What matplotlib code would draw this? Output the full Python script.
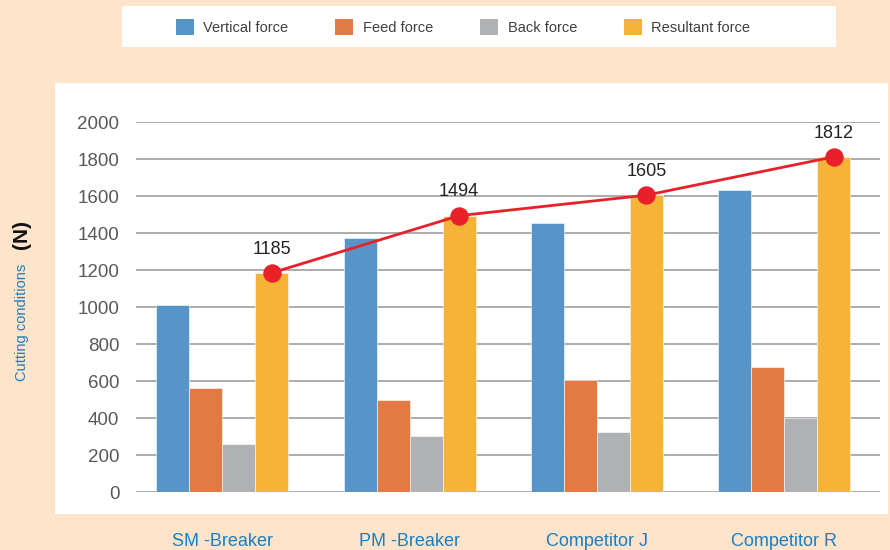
import matplotlib
matplotlib.use("Agg")
import matplotlib.pyplot as plt
from matplotlib.patches import Rectangle, Patch
import numpy as np

plt.rcParams['font.family'] = ['Liberation Sans', 'DejaVu Sans']

categories = ["SM -Breaker", "PM -Breaker", "Competitor J", "Competitor R"]
series_names = ["Vertical force", "Feed force", "Back force", "Resultant force"]
vertical = [1012, 1375, 1452, 1632]
feed = [562, 497, 605, 679]
back = [259, 304, 328, 403]
resultant = [1185, 1494, 1605, 1812]
yticks = [0, 200, 400, 600, 800, 1000, 1200, 1400, 1600, 1800, 2000]

colors = ["#5795C9", "#E27A44", "#B0B1B4", "#F5B337"]
peach = "#FDE4CA"

W, H = 890, 550
fig = plt.figure(figsize=(8.9, 5.5), dpi=100, facecolor=peach)

# white panel and legend box
fig.patches.append(Rectangle((55 / W, 1 - 514 / H), (888 - 55) / W, (514 - 83) / H,
                             transform=fig.transFigure, facecolor="white", edgecolor="none", zorder=-5))
fig.patches.append(Rectangle((122 / W, 1 - 47 / H), (836 - 122) / W, (47 - 6) / H,
                             transform=fig.transFigure, facecolor="white", edgecolor="none", zorder=-5))

ax = fig.add_axes([136 / W, 1 - 492.3 / H, (880 - 136) / W, (492.3 - 122) / H])
ax.set_facecolor("none")
ax.set_zorder(2)

x = np.arange(len(categories))
w = 0.176
for i, (vals, c) in enumerate(zip([vertical, feed, back, resultant], colors)):
    ax.bar(x + (i - 1.5) * w, vals, width=w, color=c, edgecolor="white", linewidth=0.4, zorder=3)

xr = x + 1.5 * w
ax.plot(xr, resultant, color="#E8202A", lw=2, zorder=4)
ax.scatter(xr, resultant, s=150, color="#E8202A", zorder=5, clip_on=False)
for xi, v in zip(xr, resultant):
    ax.annotate(str(v), (xi, v), xytext=(0, 11), textcoords="offset points",
                ha="center", va="bottom", fontsize=13, color="#222222", zorder=6)

ax.set_ylim(0, 2000)
ax.set_xlim(-0.46, 3.51)
ax.set_yticks(yticks)
ax.set_yticklabels([str(t) for t in yticks], fontsize=13.5, color="#595959")
ax.yaxis.grid(True, color="#A6A6A6", lw=1.3, zorder=1)
ax.set_axisbelow(True)
ax.tick_params(axis="y", length=0, pad=12)
ax.set_xticks(x)
ax.set_xticklabels(categories, fontsize=13, color="#1A7FC1")
ax.tick_params(axis="x", length=0, pad=29)
for s in ax.spines.values():
    s.set_visible(False)

fig.text(22 / W, 1 - 322 / H, "Cutting conditions", rotation=90, ha="center", va="center",
         fontsize=10.5, color="#1A7FC1")
fig.text(22 / W, 1 - 234 / H, "(N)", rotation=90, ha="center", va="center",
         fontsize=15, fontweight="bold", color="#111111")

handles = [Patch(facecolor=c, edgecolor="none") for c in colors]
fig.legend(handles, series_names, loc="center", bbox_to_anchor=(463 / W, 1 - 27 / H),
           ncol=4, frameon=False, fontsize=10.5, labelcolor="#404040",
           handlelength=1.25, handleheight=1.25, handletextpad=0.65, columnspacing=3.2)

fig.savefig("out.png", dpi=100, facecolor=peach)
